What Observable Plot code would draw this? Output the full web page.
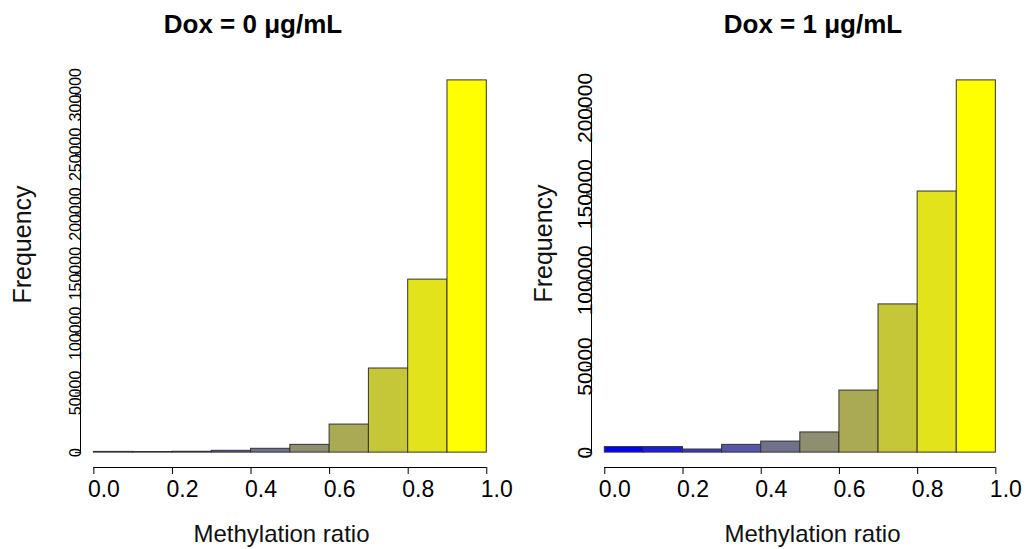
<!DOCTYPE html>
<html><head><meta charset="utf-8">
<script src="https://cdn.jsdelivr.net/npm/d3@7"></script>
<script src="https://cdn.jsdelivr.net/npm/@observablehq/plot@0.6"></script>
<style>
body{margin:0;background:#fff;}
#wrap{position:relative;width:1030px;height:549px;overflow:hidden;font-family:"Liberation Sans",Arial,sans-serif;}
.panel{position:absolute;top:0;}
.title{position:absolute;top:11px;font-weight:bold;font-size:26px;line-height:26px;text-align:center;color:#000;white-space:nowrap;}
</style></head><body>
<div id="wrap"></div>
<script>
// ---- data ----
const binStarts = [0.0, 0.1, 0.2, 0.3, 0.4, 0.5, 0.6, 0.7, 0.8, 0.9];
const binWidth = 0.1;
const countsDox0 = [600, 500, 700, 1500, 3200, 6500, 23500, 70500, 145000, 312000];
const countsDox1 = [3200, 3200, 1800, 4500, 6400, 11700, 36000, 86000, 151500, 216000];
const xTicks = [0.0, 0.2, 0.4, 0.6, 0.8, 1.0];
const yTicksDox0 = [0, 50000, 100000, 150000, 200000, 250000, 300000];
const yTicksDox1 = [0, 50000, 100000, 150000, 200000];
const titles = ["Dox = 0 μg/mL", "Dox = 1 μg/mL"];
const xLabel = "Methylation ratio";
const yLabel = "Frequency";

const FONT = '"Liberation Sans", Arial, sans-serif';
const xPad = 0.034;

function panel({counts, yTicks, width, marginLeft, marginRight, yTickFont, yTickSize, yLabDx, yLabDy, xLabDx}) {
  const data = binStarts.map((lo, i) => ({lo, hi: lo + binWidth, mid: lo + binWidth / 2, count: counts[i]}));
  const ymax = d3.max(counts);
  const xDomain = [-xPad, 1.04];
  const yDomain = [-0.04 * ymax, 1.04 * ymax];
  return Plot.plot({
    width, height: 549,
    marginLeft, marginRight, marginTop: 65, marginBottom: 82,
    style: {fontFamily: FONT, background: "transparent", overflow: "visible", color: "#000"},
    x: {domain: xDomain},
    y: {domain: yDomain},
    color: {type: "linear", domain: [0.05, 0.95], range: ["#0000ff", "#ffff00"], interpolate: "rgb"},
    marks: [
      Plot.rectY(data, {x1: "lo", x2: "hi", y1: 0, y2: "count", fill: "mid", stroke: "#333", strokeWidth: 1}),
      // x axis: ticks, labels, line
      Plot.axisX({ticks: xTicks, tickSize: 7, tickFormat: () => "", label: null, stroke: "#000"}),
      Plot.axisX({ticks: xTicks, tickSize: 0, tickPadding: 13, tickFormat: d3.format(".1f"), fontSize: 23, dx: 10, label: null}),
      Plot.ruleY([yDomain[0]], {x1: xTicks[0], x2: xTicks[xTicks.length - 1], stroke: "#000"}),
      // y axis
      Plot.axisY({ticks: yTicks, tickSize: 5, tickPadding: -5, tickRotate: -90, tickFormat: d => String(d),
                  fontSize: yTickSize, fontFamily: yTickFont, label: null, stroke: "#000"}),
      Plot.ruleX([xDomain[0]], {y1: yTicks[0], y2: yTicks[yTicks.length - 1], stroke: "#000"}),
      // axis titles
      Plot.text([yLabel], {frameAnchor: "left", rotate: -90, lineAnchor: "bottom", textAnchor: "middle",
                           dx: yLabDx, dy: yLabDy, fontSize: 25, fill: "#111"}),
      Plot.text([xLabel], {frameAnchor: "bottom", lineAnchor: "bottom", textAnchor: "middle",
                           dy: 74, dx: xLabDx, fontSize: 24, fill: "#111"})
    ]
  });
}

const wrap = document.getElementById("wrap");

const p0 = panel({counts: countsDox0, yTicks: yTicksDox0, width: 515, marginLeft: 80, marginRight: 13,
  yTickFont: FONT, yTickSize: 16, yLabDx: -50, yLabDy: -22, xLabDx: -10});
p0.classList.add("panel"); p0.style.left = "0px";
wrap.appendChild(p0);

const p1 = panel({counts: countsDox1, yTicks: yTicksDox1, width: 515, marginLeft: 76, marginRight: 19,
  yTickFont: '"Liberation Sans Narrow", "Arial Narrow", ' + FONT, yTickSize: 21, yLabDx: -40, yLabDy: -23, xLabDx: 11});
p1.classList.add("panel"); p1.style.left = "515px";
wrap.appendChild(p1);

const t0 = document.createElement("div");
t0.className = "title"; t0.textContent = titles[0];
t0.style.left = "0px"; t0.style.width = "506px";
wrap.appendChild(t0);

const t1 = document.createElement("div");
t1.className = "title"; t1.textContent = titles[1];
t1.style.left = "616px"; t1.style.width = "394px";
wrap.appendChild(t1);
</script>
</body></html>
